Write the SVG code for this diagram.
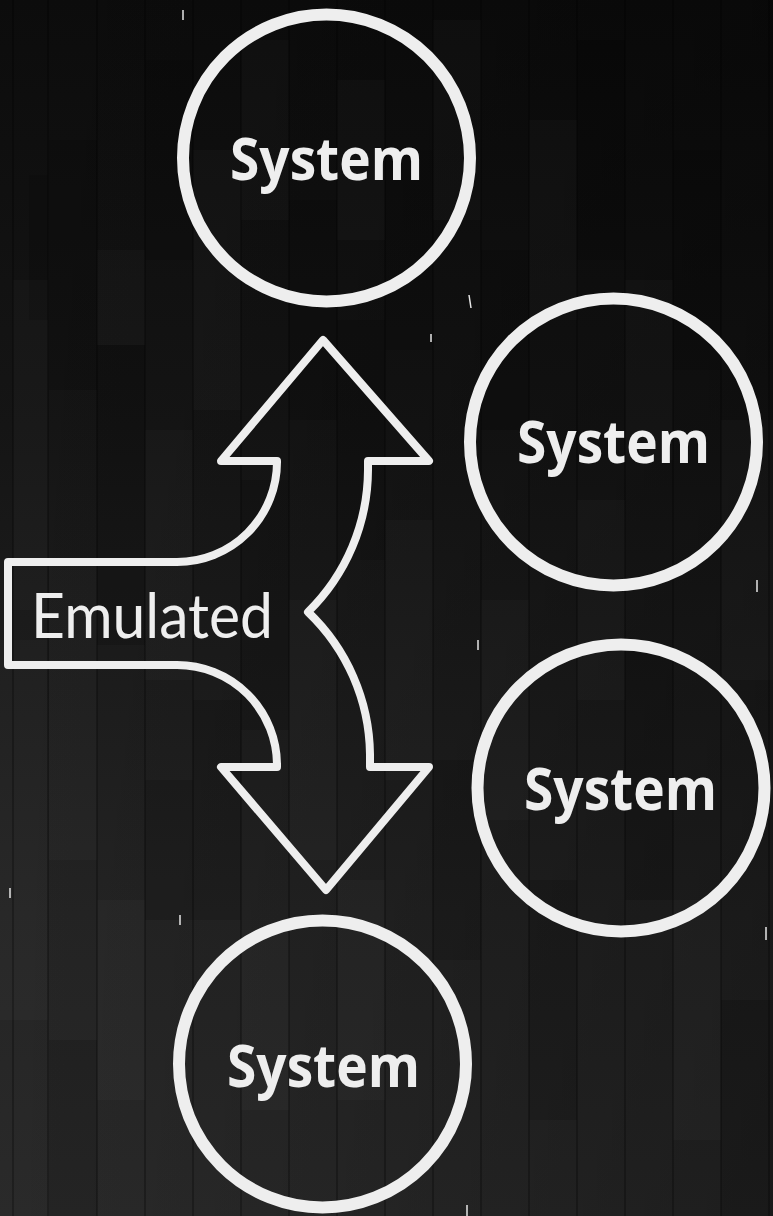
<svg xmlns="http://www.w3.org/2000/svg" width="773" height="1216" viewBox="0 0 773 1216">
  <defs>
    <linearGradient id="bgV" x1="0" y1="0" x2="0" y2="1">
      <stop offset="0" stop-color="#0c0c0c"/>
      <stop offset="0.35" stop-color="#151515"/>
      <stop offset="0.75" stop-color="#242424"/>
      <stop offset="1" stop-color="#2a2a2a"/>
    </linearGradient>
    <linearGradient id="bgH" x1="0" y1="0" x2="1" y2="0">
      <stop offset="0" stop-color="#000" stop-opacity="0"/>
      <stop offset="1" stop-color="#000" stop-opacity="0.3"/>
    </linearGradient>
    <style>
      .ring { fill: none; stroke: #eeeeee; stroke-width: 12; }
      .sys { font-family: "Open Sans", "Liberation Sans", sans-serif; font-weight: 700; font-size: 59px; fill: #eeeeee; text-anchor: middle; }
      .emu { font-family: Lato, "Open Sans", "Liberation Sans", sans-serif; font-weight: 400; font-size: 61px; fill: #eeeeee; }
      .arrow { fill: none; stroke: #eeeeee; stroke-width: 8; stroke-linejoin: round; }
      .seam { stroke: #000; stroke-opacity: 0.35; stroke-width: 1.5; }
      .lt { fill: #fff; fill-opacity: 0.02; }
      .dk { fill: #000; fill-opacity: 0.12; }
      .tick { stroke: #e6e6e6; stroke-width: 1.5; }
    </style>
  </defs>

  <g id="background">
    <rect x="0" y="0" width="773" height="1216" fill="url(#bgV)"/>
    <rect x="0" y="0" width="773" height="1216" fill="url(#bgH)"/>
    <rect class="lt" x="13" y="280" width="35" height="330"/>
    <rect class="dk" x="29" y="175" width="19" height="145"/>
    <rect class="lt" x="0" y="640" width="48" height="380"/>
    <rect class="dk" x="49" y="140" width="48" height="250"/>
    <rect class="lt" x="49" y="560" width="48" height="300"/>
    <rect class="dk" x="49" y="1040" width="48" height="176"/>
    <rect class="lt" x="97" y="250" width="48" height="95"/>
    <rect class="dk" x="97" y="345" width="48" height="300"/>
    <rect class="lt" x="97" y="900" width="48" height="200"/>
    <rect class="dk" x="145" y="60" width="48" height="200"/>
    <rect class="lt" x="145" y="430" width="48" height="250"/>
    <rect class="dk" x="145" y="780" width="48" height="140"/>
    <rect class="lt" x="193" y="150" width="48" height="260"/>
    <rect class="dk" x="193" y="700" width="48" height="220"/>
    <rect class="lt" x="241" y="40" width="48" height="180"/>
    <rect class="dk" x="241" y="480" width="48" height="250"/>
    <rect class="lt" x="241" y="930" width="48" height="180"/>
    <rect class="dk" x="289" y="200" width="48" height="220"/>
    <rect class="lt" x="289" y="600" width="48" height="260"/>
    <rect class="lt" x="337" y="80" width="48" height="160"/>
    <rect class="dk" x="337" y="320" width="48" height="240"/>
    <rect class="lt" x="337" y="880" width="48" height="220"/>
    <rect class="dk" x="385" y="150" width="48" height="200"/>
    <rect class="lt" x="385" y="520" width="48" height="260"/>
    <rect class="lt" x="433" y="20" width="48" height="200"/>
    <rect class="dk" x="433" y="760" width="48" height="200"/>
    <rect class="dk" x="481" y="250" width="48" height="180"/>
    <rect class="lt" x="481" y="600" width="48" height="220"/>
    <rect class="lt" x="529" y="120" width="48" height="200"/>
    <rect class="dk" x="529" y="880" width="48" height="240"/>
    <rect class="dk" x="577" y="40" width="48" height="220"/>
    <rect class="lt" x="577" y="500" width="48" height="200"/>
    <rect class="lt" x="625" y="280" width="48" height="180"/>
    <rect class="dk" x="625" y="640" width="48" height="260"/>
    <rect class="lt" x="673" y="900" width="48" height="240"/>
    <rect class="dk" x="673" y="150" width="48" height="220"/>
    <rect class="lt" x="721" y="420" width="52" height="260"/>
    <rect class="dk" x="721" y="1000" width="52" height="216"/>
    <g>
      <line class="seam" x1="13" y1="0" x2="13" y2="1216"/>
      <line class="seam" x1="48" y1="0" x2="48" y2="1216"/>
      <line class="seam" x1="97" y1="0" x2="97" y2="1216"/>
      <line class="seam" x1="145" y1="0" x2="145" y2="1216"/>
      <line class="seam" x1="193" y1="0" x2="193" y2="1216"/>
      <line class="seam" x1="241" y1="0" x2="241" y2="1216"/>
      <line class="seam" x1="289" y1="0" x2="289" y2="1216"/>
      <line class="seam" x1="337" y1="0" x2="337" y2="1216"/>
      <line class="seam" x1="385" y1="0" x2="385" y2="1216"/>
      <line class="seam" x1="433" y1="0" x2="433" y2="1216"/>
      <line class="seam" x1="481" y1="0" x2="481" y2="1216"/>
      <line class="seam" x1="529" y1="0" x2="529" y2="1216"/>
      <line class="seam" x1="577" y1="0" x2="577" y2="1216"/>
      <line class="seam" x1="625" y1="0" x2="625" y2="1216"/>
      <line class="seam" x1="673" y1="0" x2="673" y2="1216"/>
      <line class="seam" x1="721" y1="0" x2="721" y2="1216"/>
      <line class="seam" x1="769" y1="0" x2="769" y2="1216"/>
    </g>
    <line class="tick" x1="183" y1="10" x2="183" y2="20"/>
    <line class="tick" x1="469" y1="295" x2="471" y2="308"/>
    <line class="tick" x1="431" y1="334" x2="431" y2="342"/>
    <line class="tick" x1="757" y1="580" x2="757" y2="592"/>
    <line class="tick" x1="478" y1="640" x2="478" y2="650"/>
    <line class="tick" x1="10" y1="888" x2="10" y2="898"/>
    <line class="tick" x1="180" y1="915" x2="180" y2="925"/>
    <line class="tick" x1="766" y1="927" x2="766" y2="940"/>
    <line class="tick" x1="467" y1="1205" x2="467" y2="1216"/>
  </g>

  <g id="connectors">
    <path id="double-arrow" class="arrow" d="M323,340 L429,461 L368,461 L368,470 A200,200 0 0 1 308,612 A200,200 0 0 1 370,754 L370,767 L429,767 L326,890 L221,767 L277,767 L277,765 A100,100 0 0 0 177,665 L8,665 L8,562 L177,562 A100,100 0 0 0 277,462 L277,461 L221,461 Z"/>
  </g>

  <g id="emulated">
    <text class="emu" x="31" y="638" textLength="242" lengthAdjust="spacingAndGlyphs">Emulated</text>
  </g>

  <g id="system-top">
    <circle class="ring" cx="326.5" cy="158" r="143.5"/>
    <text class="sys" x="326.5" y="180" textLength="193" lengthAdjust="spacingAndGlyphs">System</text>
  </g>
  <g id="system-right-top">
    <circle class="ring" cx="613.5" cy="442" r="143.5"/>
    <text class="sys" x="613.5" y="463" textLength="193" lengthAdjust="spacingAndGlyphs">System</text>
  </g>
  <g id="system-right-bottom">
    <circle class="ring" cx="621" cy="788" r="143.5"/>
    <text class="sys" x="620.5" y="810" textLength="193" lengthAdjust="spacingAndGlyphs">System</text>
  </g>
  <g id="system-bottom">
    <circle class="ring" cx="322.5" cy="1064" r="143.5"/>
    <text class="sys" x="323.5" y="1087" textLength="193" lengthAdjust="spacingAndGlyphs">System</text>
  </g>
</svg>
